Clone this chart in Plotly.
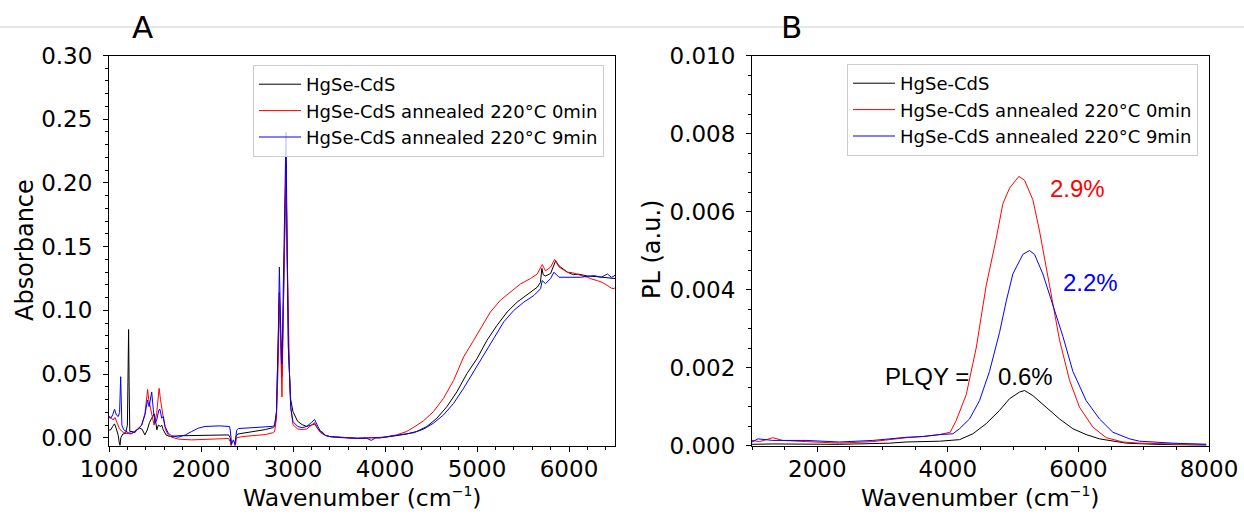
import plotly.graph_objects as go

# ---------------- Panel A data (absorbance) ----------------
wn_black_a = [1000, 1022, 1040, 1060, 1080, 1100, 1112, 1120, 1128, 1150, 1180, 1200, 1207, 1213, 1219, 1226,
              1250, 1280, 1300, 1330, 1360, 1390, 1415, 1440, 1464, 1490, 1505, 1520, 1536, 1560, 1573, 1590,
              1620, 1660, 1750, 2000, 2200, 2300, 2318, 2330, 2365, 2380, 2400, 2500, 2600, 2700, 2780, 2800,
              2820, 2840, 2852, 2865, 2880, 2895, 2912, 2924, 2935, 2950, 2962, 2975, 3000, 3050, 3100, 3150,
              3200, 3235, 3270, 3300, 3320, 3350, 3400, 3500, 3600, 3700, 3800, 3900, 4000, 4100, 4236, 4345,
              4455, 4564, 4673, 4782, 4891, 5000, 5109, 5218, 5327, 5436, 5545, 5655, 5690, 5705, 5720, 5745,
              5800, 5830, 5855, 5880, 5909, 5982, 6050, 6100, 6200, 6300, 6400, 6500]
abs_black = [0.006, 0.0065, 0.009, 0.011, 0.007, 0.002, -0.004, -0.006, 0.0, 0.003, 0.0035, 0.01, 0.05, 0.085,
             0.04, 0.005, 0.005, 0.004, 0.006, 0.0076, 0.0068, 0.0023, 0.006, 0.012, 0.0154, 0.0188, 0.014,
             0.0063, 0.01, 0.0089, 0.010, 0.0063, 0.0023, 0.001, 0.0016, 0.002, 0.0022, 0.0023, 0.0, -0.007,
             -0.007, 0.001, 0.003, 0.004, 0.005, 0.0065, 0.008, 0.009, 0.02, 0.07, 0.114, 0.08, 0.048, 0.1,
             0.19, 0.215, 0.15, 0.07, 0.05, 0.03, 0.0205, 0.013, 0.0103, 0.009, 0.01, 0.011, 0.007, 0.005,
             0.0045, 0.002, 0.001, 0.0005, 0.0, -0.0003, 0.0, 0.0, 0.0005, 0.0015, 0.003, 0.005, 0.0089, 0.0154,
             0.0245, 0.0362, 0.0505, 0.0622, 0.0766, 0.0883, 0.0987, 0.1065, 0.1125, 0.1182, 0.122, 0.133,
             0.128, 0.127, 0.129, 0.134, 0.139, 0.136, 0.134, 0.130, 0.128, 0.1285, 0.127, 0.1265, 0.126, 0.125]

wn_red_a = [1000, 1020, 1045, 1065, 1090, 1110, 1140, 1180, 1246, 1283, 1319, 1355, 1391, 1410, 1420, 1432,
            1446, 1464, 1490, 1518, 1532, 1545, 1560, 1573, 1591, 1615, 1645, 1681, 1754, 1900, 2043, 2300,
            2318, 2330, 2370, 2385, 2450, 2600, 2700, 2780, 2800, 2820, 2840, 2852, 2865, 2880, 2895, 2912,
            2924, 2935, 2950, 2962, 2975, 3000, 3050, 3100, 3150, 3200, 3235, 3270, 3300, 3350, 3400, 3500,
            3600, 3700, 3800, 3945, 4127, 4236, 4327, 4418, 4527, 4636, 4745, 4855, 4964, 5036, 5145, 5255,
            5364, 5473, 5582, 5655, 5709, 5745, 5800, 5844, 5891, 5982, 6040, 6091, 6150, 6200, 6250, 6309,
            6360, 6418, 6460, 6491, 6500]
abs_red = [0.017, 0.016, 0.014, 0.016, 0.0115, 0.0076, 0.005, 0.0036, 0.003, 0.0057, 0.0068, 0.010, 0.0193,
           0.03, 0.038, 0.03, 0.0245, 0.0206, 0.010, 0.0193, 0.032, 0.0388, 0.03, 0.022, 0.0154, 0.0063, 0.0023,
           0.0005, -0.001, -0.0016, -0.001, -0.0005, -0.003, -0.008, -0.008, 0.0, 0.001, 0.0018, 0.0026, 0.004,
           0.005, 0.015, 0.06, 0.113, 0.06, 0.032, 0.1, 0.19, 0.22, 0.15, 0.071, 0.05, 0.024, 0.0103, 0.007,
           0.0065, 0.007, 0.01, 0.012, 0.007, 0.004, 0.002, 0.001, 0.0005, 0.0, -0.0003, 0.0, 0.0, 0.0023, 0.005,
           0.009, 0.0133, 0.0206, 0.031, 0.045, 0.0635, 0.0766, 0.0857, 0.0987, 0.108, 0.1143, 0.1208, 0.125,
           0.1286, 0.136, 0.131, 0.134, 0.140, 0.134, 0.130, 0.1295, 0.1286, 0.127, 0.126, 0.1245, 0.1234,
           0.122, 0.1195, 0.1175, 0.117, 0.118]

wn_blue_a = [1000, 1020, 1040, 1060, 1080, 1100, 1115, 1127, 1140, 1160, 1210, 1246, 1283, 1319, 1355, 1391,
             1418, 1436, 1464, 1482, 1500, 1518, 1543, 1554, 1573, 1591, 1609, 1645, 1681, 1754, 1830, 1899,
             1970, 2043, 2200, 2310, 2318, 2333, 2351, 2370, 2388, 2406, 2600, 2780, 2800, 2820, 2840, 2852,
             2865, 2880, 2895, 2912, 2924, 2935, 2950, 2962, 2975, 3000, 3050, 3100, 3150, 3200, 3235, 3270,
             3300, 3350, 3400, 3500, 3600, 3700, 3800, 3850, 3900, 3945, 4127, 4309, 4418, 4527, 4636, 4745,
             4855, 4964, 5073, 5182, 5291, 5400, 5509, 5618, 5691, 5709, 5745, 5800, 5836, 5891, 5982, 6127,
             6273, 6350, 6418, 6460, 6491, 6500]
abs_blue = [0.016, 0.0154, 0.018, 0.0224, 0.018, 0.0167, 0.02, 0.048, 0.01, 0.0063, 0.004, 0.0036, 0.005,
            0.0076, 0.010, 0.018, 0.0297, 0.0245, 0.036, 0.022, 0.0115, 0.014, 0.022, 0.0224, 0.0154, 0.0167,
            0.0089, 0.0036, 0.0016, 0.0005, 0.0023, 0.005, 0.0076, 0.0089, 0.0094, 0.0089, 0.006, -0.005,
            -0.0016, -0.005, 0.006, 0.0073, 0.008, 0.009, 0.010, 0.02, 0.08, 0.134, 0.09, 0.058, 0.12, 0.2,
            0.24, 0.16, 0.071, 0.05, 0.024, 0.0127, 0.009, 0.008, 0.009, 0.012, 0.0144, 0.009, 0.005, 0.002,
            0.001, 0.0003, -0.0002, -0.0005, -0.0003, -0.002, 0.0, 0.0, 0.002, 0.004, 0.0068, 0.0115, 0.018,
            0.027, 0.039, 0.052, 0.066, 0.079, 0.091, 0.100, 0.1065, 0.1117, 0.117, 0.1234, 0.121, 0.125, 0.130,
            0.126, 0.126, 0.126, 0.1273, 0.126, 0.1286, 0.126, 0.127, 0.128]

# ---------------- Panel B data (PL) ----------------
wn_red_b = [1000, 1117, 1319, 1470, 1829, 2340, 2851, 3106, 3362, 3617, 3872, 4036, 4128, 4281, 4434, 4587,
            4740, 4843, 4945, 5088, 5175, 5302, 5404, 5558, 5711, 5864, 6017, 6221, 6426, 6681, 6936, 7447, 7958]
pl_red = [0.00013, 0.0001, 0.0002, 0.00013, 0.0001, 0.00006, 0.0001, 0.00015, 0.0002, 0.00023, 0.00028,
          0.00034, 0.00064, 0.0013, 0.0025, 0.0041, 0.0053, 0.0062, 0.0066, 0.0069, 0.0068, 0.0063, 0.0055,
          0.0041, 0.0027, 0.00167, 0.00098, 0.00047, 0.0002, 0.00009, 0.00006, 0.00004, 0.00003]

wn_blue_b = [1000, 1090, 1319, 1829, 2340, 2851, 3362, 3617, 3872, 4077, 4179, 4332, 4485, 4638, 4792, 4894,
             4996, 5149, 5251, 5328, 5455, 5609, 5762, 5915, 6119, 6323, 6528, 6783, 6936, 7447, 7958]
pl_blue = [0.00009, 0.00017, 0.00013, 0.00013, 0.00009, 0.00013, 0.00021, 0.00023, 0.00028, 0.0003, 0.00043,
           0.00068, 0.00115, 0.0019, 0.0029, 0.0037, 0.0044, 0.0049, 0.005, 0.0049, 0.0044, 0.0036, 0.0028,
           0.0019, 0.00115, 0.00068, 0.00034, 0.00017, 0.00011, 0.00006, 0.00003]

wn_black_b = [1000, 1319, 2340, 3106, 3362, 3872, 4179, 4383, 4587, 4792, 4945, 5098, 5175, 5302, 5506, 5711,
              5915, 6119, 6323, 6528, 6732, 7191, 7958]
pl_black = [0.00003, 0.00004, 0.00003, 0.00006, 0.00009, 0.00011, 0.00015, 0.0003, 0.00056, 0.0009, 0.0012,
            0.00137, 0.00141, 0.00128, 0.00098, 0.00068, 0.00043, 0.00028, 0.00017, 0.00011, 0.00006, 0.00003, 0.0]

series_names = ["HgSe-CdS", "HgSe-CdS annealed 220°C 0min", "HgSe-CdS annealed 220°C 9min"]
series_colors = ["#000000", "#ff0000", "#0000ff"]
plqy_labels = ["0.6%", "2.9%", "2.2%"]

W, H = 1244, 514
FONT = "DejaVu Sans"

fig = go.Figure()
a_data = [(wn_black_a, abs_black), (wn_red_a, abs_red), (wn_blue_a, abs_blue)]
b_data = [(wn_black_b, pl_black), (wn_red_b, pl_red), (wn_blue_b, pl_blue)]
for i, (x, y) in enumerate(a_data):
    fig.add_trace(go.Scatter(x=x, y=y, mode="lines", name=series_names[i],
                             line=dict(color=series_colors[i], width=1),
                             xaxis="x", yaxis="y", legend="legend", legendgroup="a%d" % i))
for i, (x, y) in enumerate(b_data):
    fig.add_trace(go.Scatter(x=x, y=y, mode="lines", name=series_names[i],
                             line=dict(color=series_colors[i], width=1),
                             xaxis="x2", yaxis="y2", legend="legend2", legendgroup="b%d" % i))


def axis_style(minor_dtick, **kw):
    d = dict(showline=True, linecolor="black", linewidth=1, mirror=True, ticks="outside", ticklen=5,
             tickwidth=1, tickcolor="black", showgrid=False, zeroline=False,
             tickfont=dict(family=FONT, size=23, color="black"), automargin=False,
             minor=dict(ticks="outside", ticklen=3, tickwidth=1, tickcolor="black", showgrid=False,
                        dtick=minor_dtick))
    d.update(kw)
    return d


ydom = [1 - 445.5 / H, 1 - 55.5 / H]
legend_style = dict(xanchor="left", yanchor="top",
                    font=dict(family=FONT, size=18, color="black"),
                    bgcolor="rgba(255,255,255,0.8)", bordercolor="#cccccc", borderwidth=1,
                    tracegroupgap=0, itemwidth=42)
fig.update_layout(
    width=W, height=H, autosize=False,
    margin=dict(l=0, r=0, t=0, b=0),
    paper_bgcolor="white", plot_bgcolor="white",
    xaxis=axis_style(200, domain=[109 / W, 615 / W], range=[1000, 6500], tick0=1000, dtick=1000,
                     tickformat="d", anchor="y", ticklabelstandoff=-2),
    yaxis=axis_style(0.01, domain=ydom, range=[-0.006, 0.30], tick0=0, dtick=0.05, tickformat=".2f",
                     anchor="x", ticklabelstandoff=6),
    xaxis2=axis_style(500, domain=[752 / W, 1209 / W], range=[1000, 8000], tick0=0, dtick=2000,
                      tickformat="d", anchor="y2", ticklabelstandoff=-2),
    yaxis2=axis_style(0.0005, domain=ydom, range=[0, 0.010], tick0=0, dtick=0.002, tickformat=".3f",
                      anchor="x2", ticklabelstandoff=6),
    legend=dict(x=253 / W, y=1 - 65 / H, **legend_style),
    legend2=dict(x=847 / W, y=1 - 64 / H, **legend_style),
    showlegend=True,
)

# axis titles (placed as annotations for exact positioning)
title_font = dict(family=FONT, size=23.5, color="black")
xtitle = "Wavenumber (cm<sup><span style='font-size:14px'>−1</span></sup>)"
for xc in (362, 980):
    fig.add_annotation(text=xtitle, xref="paper", yref="paper", x=xc / W, y=0, showarrow=False,
                       xanchor="center", yanchor="bottom", yshift=0, font=title_font)
for xc, txt in [(25, "Absorbance"), (652, "PL (a.u.)")]:
    fig.add_annotation(text=txt, xref="paper", yref="paper", x=xc / W, y=1 - 250 / H, showarrow=False,
                       xanchor="center", yanchor="middle", textangle=-90,
                       font=dict(family=FONT, size=24, color="black"))

# top separator line and panel letters
fig.add_shape(type="line", xref="paper", yref="paper", x0=0, x1=1, y0=1 - 27 / H, y1=1 - 27 / H,
              line=dict(color="#cccccc", width=1))
fig.add_annotation(text="A", xref="paper", yref="paper", x=142 / W, y=1 - 27 / H, showarrow=False,
                   xanchor="center", yanchor="middle", font=dict(family=FONT, size=31, color="black"))
fig.add_annotation(text="B", xref="paper", yref="paper", x=791 / W, y=1 - 27 / H, showarrow=False,
                   xanchor="center", yanchor="middle", font=dict(family=FONT, size=31, color="black"))

# PLQY annotations in panel B
ann_font = "Liberation Sans"
fig.add_annotation(text=plqy_labels[1], x=5536, y=0.00659, xref="x2", yref="y2", showarrow=False,
                   xanchor="left", yanchor="middle", font=dict(family=ann_font, size=24, color="#ff0000"))
fig.add_annotation(text=plqy_labels[2], x=5736, y=0.00418, xref="x2", yref="y2", showarrow=False,
                   xanchor="left", yanchor="middle", font=dict(family=ann_font, size=24, color="#0000ff"))
fig.add_annotation(text="PLQY =", x=3008, y=0.00177, xref="x2", yref="y2", showarrow=False,
                   xanchor="left", yanchor="middle", font=dict(family=ann_font, size=24, color="black"))
fig.add_annotation(text=plqy_labels[0], x=4739, y=0.00177, xref="x2", yref="y2", showarrow=False,
                   xanchor="left", yanchor="middle", font=dict(family=ann_font, size=24, color="black"))

fig.write_html("out.html")
